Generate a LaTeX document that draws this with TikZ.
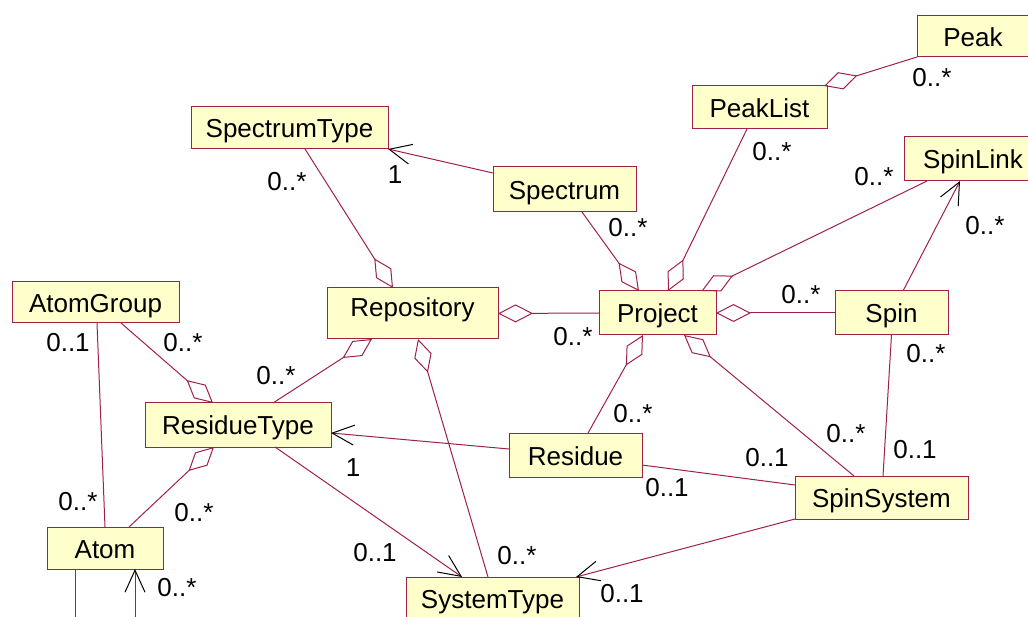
\documentclass[tikz,border=0pt]{standalone}
\usepackage{fontspec}
\setmainfont{Liberation Sans}
\usetikzlibrary{arrows.meta}
\definecolor{umlline}{HTML}{A0204C}
\definecolor{umlfill}{HTML}{FFFFCC}

\begin{document}
\begin{tikzpicture}[
    x=1pt, y=-1pt,
    font=\fontsize{26}{30}\selectfont,
    classe/.style={draw=umlline, fill=umlfill, line width=1pt, inner sep=0pt,
                   outer sep=0pt, text height=26pt, text depth=6pt},
    mult/.style={inner sep=0pt},
    assoc/.style={draw=umlline, line width=1pt},
    agreg/.style={assoc, {Diamond[open, length=35pt, width=18pt]}-},
    naveg/.style={assoc, -{Straight Barb[black, length=22pt, width=20pt]}}
  ]
    \useasboundingbox (0,0) rectangle (1028,617);

    % --- Classes ---
    \node[classe, minimum width=112pt, minimum height=41pt] (peak) at (973,36.5) {Peak};
    \node[classe, minimum width=135pt, minimum height=43pt] (peaklist) at (759.5,107.5) {PeakList};
    \node[classe, minimum width=138pt, minimum height=44pt] (spinlink) at (973,159) {SpinLink};
    \node[classe, minimum width=197pt, minimum height=42pt] (spectrumtype) at (289.5,128) {SpectrumType};
    \node[classe, minimum width=143pt, minimum height=45pt] (spectrum) at (564.5,189.5) {Spectrum};
    \node[classe, minimum width=171pt, minimum height=51pt, text depth=19pt] (repository) at (412.5,313.5) {Repository};
    \node[classe, minimum width=117pt, minimum height=44pt] (project) at (657.5,313) {Project};
    \node[classe, minimum width=113pt, minimum height=44pt] (spin) at (891.5,313) {Spin};
    \node[classe, minimum width=173pt, minimum height=43pt] (spinsystem) at (881.5,497.5) {SpinSystem};
    \node[classe, minimum width=167pt, minimum height=41pt] (atomgroup) at (95.5,302.5) {AtomGroup};
    \node[classe, minimum width=186pt, minimum height=44pt] (residuetype) at (238,425) {ResidueType};
    \node[classe, minimum width=133pt, minimum height=44pt] (residue) at (575.5,455) {Residue};
    \node[classe, minimum width=116pt, minimum height=42pt] (atom) at (105,548) {Atom};
    \node[classe, minimum width=173pt, minimum height=43pt] (systemtype) at (492.5,598.5) {SystemType};

    % --- Aggregations ---
    \draw[agreg] ([xshift=-3pt]peaklist.north east) -- (peak.south west);
    \draw[agreg] ([xshift=10.5pt]project.north) -- ([xshift=-12.5pt]peaklist.south);
    \draw[agreg] ([xshift=-19.5pt]repository.north) -- ([xshift=15.5pt]spectrumtype.south);
    \draw[agreg] ([xshift=-18.5pt]project.north) -- ([xshift=17.5pt]spectrum.south);
    \draw[agreg] ([xshift=44pt]project.north) -- ([xshift=23pt]spinlink.south west);
    \draw[agreg] (project.east) -- (spin.west);
    \draw[agreg] ([xshift=26.5pt]project.south) -- ([xshift=-27.5pt]spinsystem.north);
    \draw[agreg] ([xshift=-14.5pt]project.south) -- ([xshift=12.5pt]residue.north);
    \draw[agreg] (repository.east) -- (project.west);
    \draw[agreg] ([xshift=-40.5pt]repository.south) -- ([xshift=35pt]residuetype.north);
    \draw[agreg] ([xshift=5.5pt]repository.south) -- ([xshift=-4.5pt]systemtype.north);
    \draw[agreg] ([xshift=-25pt]residuetype.north) -- ([xshift=25.5pt]atomgroup.south);
    \draw[agreg] ([xshift=-24pt]residuetype.south) -- ([xshift=24pt]atom.north);

    % --- Navigable and plain associations ---
    \draw[naveg] ([yshift=16.5pt]spectrum.west) -- (spectrumtype.south east);
    \draw[naveg] ([xshift=11.5pt]spin.north) -- ([xshift=-13pt]spinlink.south);
    \draw[naveg] ([yshift=6pt]residue.west) -- ([yshift=-8pt]residuetype.east);
    \draw[naveg] ([xshift=37pt]residuetype.south) -- ([xshift=-30.5pt]systemtype.north);
    \draw[naveg] (spinsystem.south west) -- ([xshift=-3pt]systemtype.north east);
    \draw[assoc] (spin.south) -- ([xshift=1.5pt]spinsystem.north);
    \draw[assoc] ([yshift=-10pt]residue.east) -- ([yshift=12.5pt]spinsystem.west);
    \draw[assoc] ([xshift=1.5pt]atomgroup.south) -- (atom.north);

    % Atom self link, runs off the bottom
    \coordinate (atomdown1) at (75,625);
    \coordinate (atomdown2) at (135,625);
    \draw[assoc] ([xshift=-30pt]atom.south) -- (atomdown1);
    \draw[naveg] (atomdown2) -- ([xshift=30pt]atom.south);

    % --- Multiplicities ---
    \node[mult] (m1) at (932,78) {0..*};
    \node[mult] (m2) at (772,152) {0..*};
    \node[mult] (m3) at (874,177) {0..*};
    \node[mult] (m4) at (985,226) {0..*};
    \node[mult] (m5) at (287,182) {0..*};
    \node[mult] (m6) at (395,175) {1};
    \node[mult] (m7) at (628,228) {0..*};
    \node[mult] (m8) at (573,337) {0..*};
    \node[mult] (m9) at (801,295) {0..*};
    \node[mult] (m10) at (926,354) {0..*};
    \node[mult] (m11) at (846,434) {0..*};
    \node[mult] (m12) at (915,450) {0..1};
    \node[mult] (m13) at (767,458) {0..1};
    \node[mult] (m14) at (667,488) {0..1};
    \node[mult] (m15) at (633,414) {0..*};
    \node[mult] (m16) at (353,468) {1};
    \node[mult] (m17) at (375,553) {0..1};
    \node[mult] (m18) at (517,556) {0..*};
    \node[mult] (m19) at (622,594) {0..1};
    \node[mult] (m20) at (68,343) {0..1};
    \node[mult] (m21) at (183,343) {0..*};
    \node[mult] (m22) at (276,376) {0..*};
    \node[mult] (m23) at (78,502) {0..*};
    \node[mult] (m24) at (194,513) {0..*};
    \node[mult] (m25) at (177,588) {0..*};

\end{tikzpicture}
\end{document}
